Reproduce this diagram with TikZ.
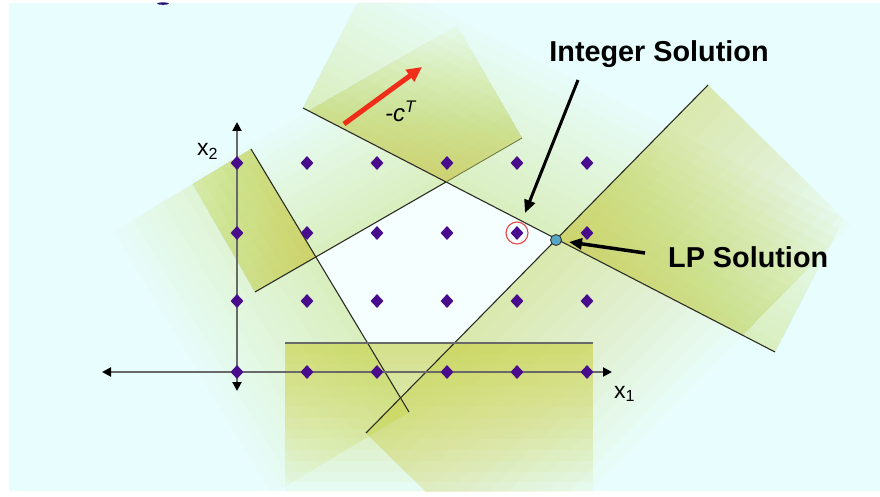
\documentclass[tikz,border=0pt]{standalone}
\usepackage{fontspec}
\setmainfont{Liberation Sans}
\usetikzlibrary{arrows.meta,shapes.geometric}
\definecolor{bgc}{RGB}{232,254,254}
\definecolor{feasc}{RGB}{246,255,255}
\definecolor{bandc}{RGB}{205,210,55}
\definecolor{ptc}{RGB}{72,12,140}
\definecolor{linec}{RGB}{45,45,35}
\definecolor{linec2}{RGB}{110,115,60}
\definecolor{axisc}{RGB}{105,105,105}
\definecolor{redarr}{RGB}{240,45,25}
\definecolor{circc}{RGB}{235,70,70}
\definecolor{lpc}{RGB}{85,165,195}
\definecolor{titlec}{RGB}{40,20,120}
\newcommand\myband[8]{%
  \foreach \k in {1,...,14}{%
    \fill[bandc, fill opacity=#8] (#1,#2) -- (#3,#4)
      -- ({#3+(#5)*(#7)*\k/14},{#4+(#6)*(#7)*\k/14})
      -- ({#1+(#5)*(#7)*\k/14},{#2+(#6)*(#7)*\k/14}) -- cycle;
  }}
\tikzset{
  cline/.style={draw=linec, line width=1.1pt},
  axisline/.style={draw=axisc, line width=2pt},
  pt/.style={diamond, fill=ptc, inner sep=0pt, minimum width=13pt, minimum height=14pt},
  lbl/.style={font=\fontsize{28.8}{31}\selectfont\bfseries, text=black, inner sep=0pt},
  axlbl/.style={font=\fontsize{23}{25}\selectfont, text=black, inner sep=0pt},
  callout/.style={draw=black, line width=3pt, -{Triangle[length=13pt,width=11pt]}}
}
\begin{document}
\begin{tikzpicture}[x=1pt,y=-1pt]
\useasboundingbox (0,0) rectangle (880,497);
\fill[white] (0,0) rectangle (880,497);
\fill[bgc] (9,3) rectangle (880,491);
\fill[titlec] (163,3.6) ellipse (6 and 1.2);
% feasible region
\fill[feasc] (316.1,257.3) -- (446,182) -- (556.6,239.1) -- (454.5,343) -- (367.6,343) -- cycle;
% constraint bands
\begin{scope}
\clip (9,3) rectangle (880,491);
\myband{303}{108}{775}{352}{0.4595}{-0.889}{150}{0.0232}
\myband{255}{292}{522}{138}{-0.5}{-0.867}{130}{0.0232}
\myband{251}{149}{409}{412}{-0.857}{0.515}{160}{0.0232}
\myband{366}{433}{708}{85}{0.713}{0.701}{200}{0.0303}
\myband{285}{343}{593}{343}{0}{1}{150}{0.0554}
% overlap boosts
\begin{scope}
\clip (255,292) -- (522,138) -- (457,25.3) -- (190,179.3) -- cycle;
\myband{303}{108}{775}{352}{0.4595}{-0.889}{150}{0.0252}
\myband{251}{149}{409}{412}{-0.857}{0.515}{160}{0.0303}
\end{scope}
\begin{scope}
\clip (366,433) -- (708,85) -- (850.6,225.2) -- (508.6,573.2) -- cycle;
\myband{303}{108}{775}{352}{0.4595}{-0.889}{150}{0.0252}
\end{scope}
\end{scope}
% constraint lines
\draw[cline] (303,108) -- (775,352);
\draw[cline] (255,292) -- (446,182);
\draw[cline, draw=linec2, line width=0.8pt] (446,182) -- (522,138);
\draw[cline] (251,149) -- (409,412);
\draw[cline] (366,433) -- (708,85);
\draw[axisline] (285,343) -- (593,343);
% axes
\coordinate (xl) at (102,372);
\coordinate (xr) at (612,372);
\coordinate (yt) at (237,122);
\coordinate (yb) at (237,391);
\draw[axisline, {Triangle[length=9pt,width=9pt,color=black]}-{Triangle[length=9pt,width=9pt,color=black]}] (xl) -- (xr);
\draw[axisline, {Triangle[length=9pt,width=9pt,color=black]}-{Triangle[length=9pt,width=9pt,color=black]}] (yb) -- (yt);
\node[axlbl, anchor=base west] (x1lbl) at (614,398) {x\textsubscript{1}};
\node[axlbl, anchor=base west] (x2lbl) at (197,156) {x\textsubscript{2}};
% lattice points
\foreach \i/\x in {0/237,1/307,2/377,3/447,4/517,5/587}{
  \foreach \j/\y in {0/372,1/301,2/233,3/163}{
    \node[pt] (p\i\j) at (\x,\y) {};
  }}
% integer solution marker
\node[circle, draw=circc, line width=1.1pt, minimum size=22pt, inner sep=0pt] (intsol) at (p42) {};
% LP solution
\node[circle, fill=lpc, draw=linec, line width=0.8pt, minimum size=11pt, inner sep=0pt] (lp) at (556,240) {};
% objective arrow
\coordinate (cs) at (344,124);
\coordinate (ce) at (422,67);
\draw[draw=redarr, line width=5pt, -{Triangle[length=15pt,width=14pt,color=redarr]}] (cs) -- (ce);
\node[font=\fontsize{24}{26}\selectfont\itshape, anchor=base west, inner sep=0pt] (ctlbl) at (385,122) {-c\textsuperscript{T}};
% labels
\node[lbl, anchor=base] (intlbl) at (659,62) {Integer Solution};
\node[lbl, anchor=base west] (lplbl) at (668,267) {LP Solution};
\coordinate (ia) at (578,80);
\coordinate (ib) at (525,213);
\draw[callout] (ia) -- (ib);
\coordinate (la) at (645,253);
\coordinate (lb) at (569,242);
\draw[callout, line width=3.5pt] (la) -- (lb);
\end{tikzpicture}
\end{document}
